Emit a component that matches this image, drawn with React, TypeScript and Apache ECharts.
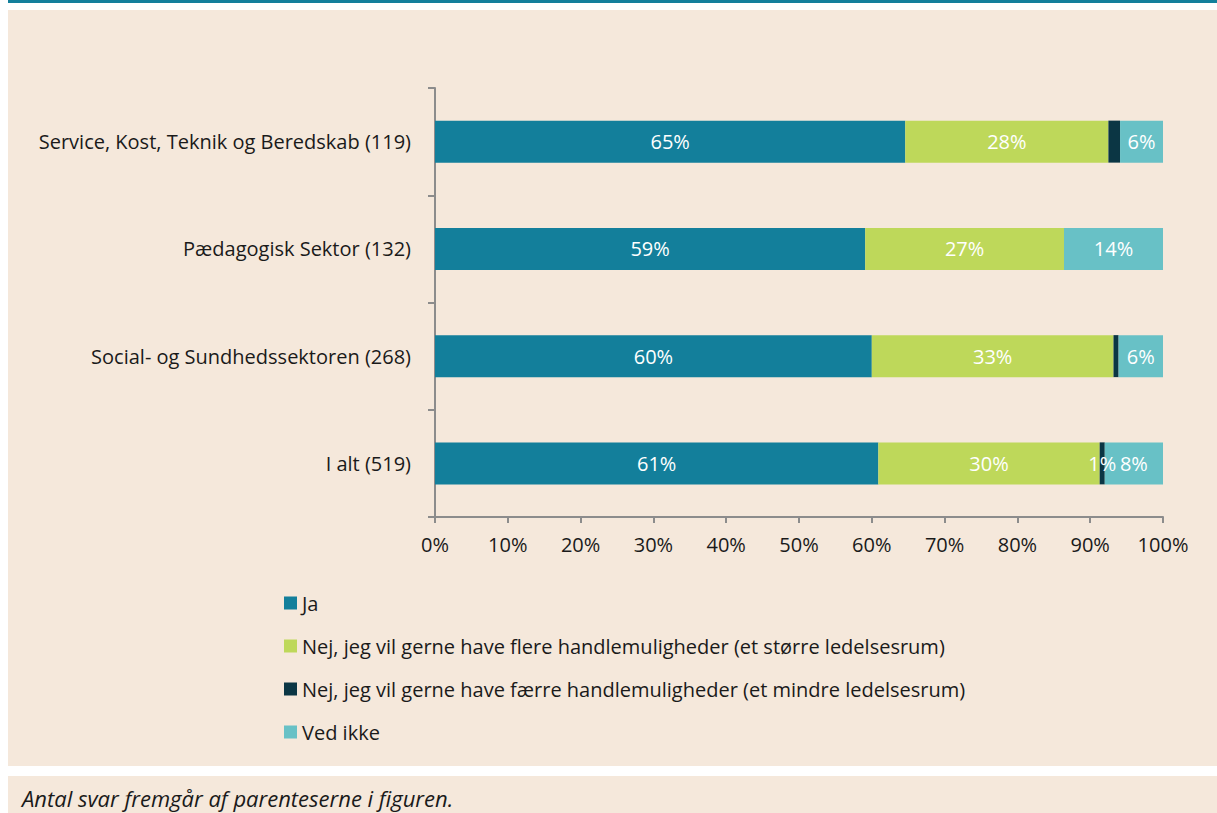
import React, { useEffect, useRef } from "react";
import * as echarts from "echarts";

const categories = [
  "Service, Kost, Teknik og Beredskab (119)",
  "Pædagogisk Sektor (132)",
  "Social- og Sundhedssektoren (268)",
  "I alt (519)",
];
const seriesNames = [
  "Ja",
  "Nej, jeg vil gerne have flere handlemuligheder (et større ledelsesrum)",
  "Nej, jeg vil gerne have færre handlemuligheder (et mindre ledelsesrum)",
  "Ved ikke",
];
const jaValues = [64.6, 59.1, 60.0, 60.9];
const flereValues = [27.9, 27.3, 33.2, 30.4];
const faerreValues = [1.6, 0, 0.7, 0.7];
const vedIkkeValues = [5.9, 13.6, 6.1, 8.0];
const faerreLabelShown = [false, false, false, true];
const xTicks = [0, 10, 20, 30, 40, 50, 60, 70, 80, 90, 100];
const footnote = "Antal svar fremgår af parenteserne i figuren.";

const colors = ["#137F9B", "#BED85A", "#0B3644", "#68C1C6"];
const FONT = "'Open Sans', 'Noto Sans', sans-serif";

export default function App() {
  const ref = useRef<HTMLDivElement>(null);
  useEffect(() => {
    if (!ref.current) return;
    const chart = echarts.init(ref.current, null, { renderer: "svg" });
    const allValues = [jaValues, flereValues, faerreValues, vedIkkeValues];
    const series = seriesNames.map((name, si) => ({
      name,
      type: "bar",
      stack: "total",
      barWidth: 42,
      itemStyle: { color: colors[si] },
      label: {
        show: true,
        position: "inside",
        color: "#ffffff",
        fontSize: 20,
        fontFamily: FONT,
        formatter: (p: any) => Math.round(p.value) + "%",
      },
      data: allValues[si].map((v, ci) => {
        const show = si === 2 ? faerreLabelShown[ci] : v > 0;
        return { value: v, label: { show } };
      }),
    }));
    chart.setOption({
      animation: false,
      textStyle: { fontFamily: FONT },
      graphic: [
        { type: "rect", shape: { x: 8, y: 0, width: 1209, height: 3 }, style: { fill: "#137F9B" }, z: -10 },
        { type: "rect", shape: { x: 8, y: 10, width: 1209, height: 756 }, style: { fill: "#F5E8DB" }, z: -10 },
        { type: "rect", shape: { x: 8, y: 776, width: 1209, height: 37 }, style: { fill: "#F5E8DB" }, z: -10 },
        {
          type: "text",
          x: 22,
          y: 798,
          style: {
            text: footnote,
            fontSize: 22,
            fontStyle: "italic",
            fontFamily: FONT,
            fill: "#1a1a1a",
            verticalAlign: "middle",
          },
        },
      ],
      legend: {
        orient: "vertical",
        left: 279,
        top: 587,
        itemWidth: 13,
        itemHeight: 13,
        itemGap: 21,
        icon: "rect",
        textStyle: { fontSize: 20, color: "#1a1a1a", fontFamily: FONT, lineHeight: 22 },
        data: seriesNames,
      },
      grid: { left: 435, right: 54, top: 88, height: 429, containLabel: false },
      xAxis: {
        type: "value",
        min: xTicks[0],
        max: xTicks[xTicks.length - 1],
        interval: 10,
        axisLine: { show: true, lineStyle: { color: "#8c8c8c", width: 2 } },
        axisTick: { show: true, length: 6, lineStyle: { color: "#8c8c8c", width: 2 } },
        splitLine: { show: false },
        axisLabel: { fontSize: 20, color: "#1a1a1a", margin: 17, formatter: "{value}%" },
      },
      yAxis: {
        type: "category",
        inverse: true,
        data: categories,
        axisLine: { show: true, lineStyle: { color: "#8c8c8c", width: 2 } },
        axisTick: { show: true, length: 7, lineStyle: { color: "#8c8c8c", width: 2 } },
        axisLabel: { fontSize: 20, color: "#1a1a1a", margin: 24 },
      },
      series,
    });
    return () => chart.dispose();
  }, []);
  return (
    <div
      ref={ref}
      style={{ position: "absolute", left: 0, top: 0, width: 1217, height: 813, background: "#ffffff" }}
    />
  );
}
